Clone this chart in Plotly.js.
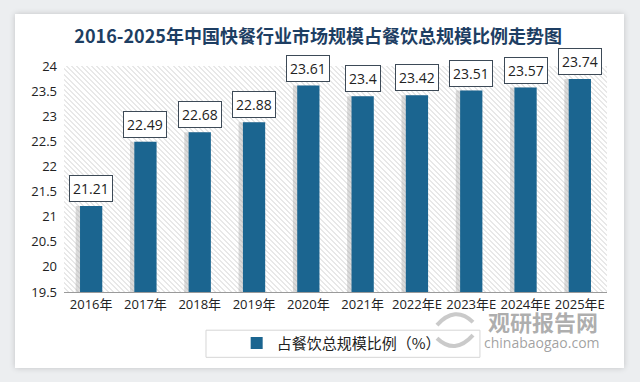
<!DOCTYPE html>
<html>
<head>
<meta charset="utf-8">
<script src="https://cdn.plot.ly/plotly-3.0.1.min.js"></script>
<style>
  html, body { margin:0; padding:0; width:640px; height:382px; background:#eceef0; overflow:hidden; }
  #card { position:absolute; left:15px; top:14px; width:609px; height:354px; background:#fff;
          box-shadow: 0 0 6px rgba(0,0,0,0.18); }
  #hatch { position:absolute; left:64px; top:66px; width:543px; height:226px;
           background: repeating-linear-gradient(45deg, #ffffff 0px, #ffffff 2.2px, #e8e8e8 2.2px, #e8e8e8 3.6px); }
  #chart { position:absolute; left:0; top:0; width:640px; height:382px; }
</style>
</head>
<body>
<div id="card"></div>
<div id="hatch"></div>
<div id="chart"></div>
<script>
const categories = ["2016年","2017年","2018年","2019年","2020年","2021年","2022年E","2023年E","2024年E","2025年E"];
const shareValues = [21.21, 22.49, 22.68, 22.88, 23.61, 23.4, 23.42, 23.51, 23.57, 23.74];
const valueLabels = ["21.21","22.49","22.68","22.88","23.61","23.4","23.42","23.51","23.57","23.74"];
const seriesName = "占餐饮总规模比例（%）";
const chartTitle = "2016-2025年中国快餐行业市场规模占餐饮总规模比例走势图";
const yTicks = [19.5, 20, 20.5, 21, 21.5, 22, 22.5, 23, 23.5, 24];

const BAR_W = 0.41;
const FONT = "'Open Sans', 'Noto Sans CJK SC', sans-serif";

const shadow = {
  type: 'bar', x: categories, y: shareValues,
  width: BAR_W, offset: -BAR_W/2 - 0.08,
  marker: { color: 'rgba(165,165,165,0.4)', line: { width: 0 } },
  showlegend: false, hoverinfo: 'skip'
};
const bars = {
  type: 'bar', x: categories, y: shareValues, name: seriesName,
  width: BAR_W, offset: -BAR_W/2,
  marker: { color: '#1b6590', line: { width: 0 } },
  hoverinfo: 'x+y'
};

const annotations = categories.map((c, i) => ({
  x: c, y: shareValues[i], xref: 'x', yref: 'y',
  text: valueLabels[i], showarrow: false, yanchor: 'bottom', yshift: 4,
  font: { family: FONT, size: 14, color: '#222' },
  bgcolor: '#ffffff', bordercolor: '#3d4a57', borderwidth: 1, borderpad: 3
}));
annotations.push({
  xref: 'paper', yref: 'paper', x: 0.882, y: -0.128, text: '<b>观研报告网</b>', showarrow: false,
  xanchor: 'center', yanchor: 'middle',
  font: { family: "'Noto Sans CJK SC', sans-serif", size: 22, color: 'rgba(120,120,120,0.6)' }
});
annotations.push({
  xref: 'paper', yref: 'paper', x: 0.88, y: -0.225, text: 'chinabaogao.com', showarrow: false,
  xanchor: 'center', yanchor: 'middle',
  font: { family: "'Open Sans', sans-serif", size: 14, color: 'rgba(120,120,120,0.7)' }
});

const layout = {
  width: 640, height: 382,
  margin: { l: 64, r: 33, t: 66, b: 90 },
  paper_bgcolor: 'rgba(0,0,0,0)', plot_bgcolor: 'rgba(0,0,0,0)',
  barmode: 'overlay',
  title: { text: chartTitle, x: 0.497, xanchor: 'center', y: 0.905, yanchor: 'middle',
           font: { family: "'Noto Sans CJK SC', sans-serif", size: 18, color: '#1d3e63', weight: 'bold' } },
  xaxis: { type: 'category', showline: true, linecolor: '#9a9a9a', linewidth: 1, ticks: '',
           tickfont: { family: FONT, size: 13, color: '#222' }, showgrid: false, zeroline: false, fixedrange: true },
  yaxis: { range: [19.5, 24], tickvals: yTicks, ticktext: yTicks.map(String),
           showgrid: false, zeroline: false, showline: false, ticks: '', ticklabelstandoff: 6,
           tickfont: { family: FONT, size: 13, color: '#222' }, fixedrange: true },
  showlegend: true,
  legend: { orientation: 'h', x: 0.318, xanchor: 'left', y: -0.227, yanchor: 'middle',
            bgcolor: 'rgba(0,0,0,0)', font: { family: "'Noto Sans CJK SC', sans-serif", size: 15, color: '#222' } },
  shapes: [
    { type: 'rect', xref: 'paper', yref: 'paper', x0: 0.2615, x1: 0.766, y0: -0.169, y1: -0.289,
      line: { color: '#d6d6d6', width: 1 }, fillcolor: 'rgba(255,255,255,0)', layer: 'below' },
    { type: 'path', xref: 'paper', yref: 'paper', layer: 'above',
      path: 'M 0.6869 -0.1467 Q 0.7201 -0.0578 0.7532 -0.1333',
      line: { color: 'rgba(150,150,150,0.5)', width: 4 } },
    { type: 'path', xref: 'paper', yref: 'paper', layer: 'above',
      path: 'M 0.7532 -0.1911 Q 0.7201 -0.28 0.6869 -0.2044',
      line: { color: 'rgba(150,150,150,0.5)', width: 4 } }
  ],
  annotations: annotations
};

Plotly.newPlot('chart', [shadow, bars], layout, { displayModeBar: false, staticPlot: true });
</script>
</body>
</html>
